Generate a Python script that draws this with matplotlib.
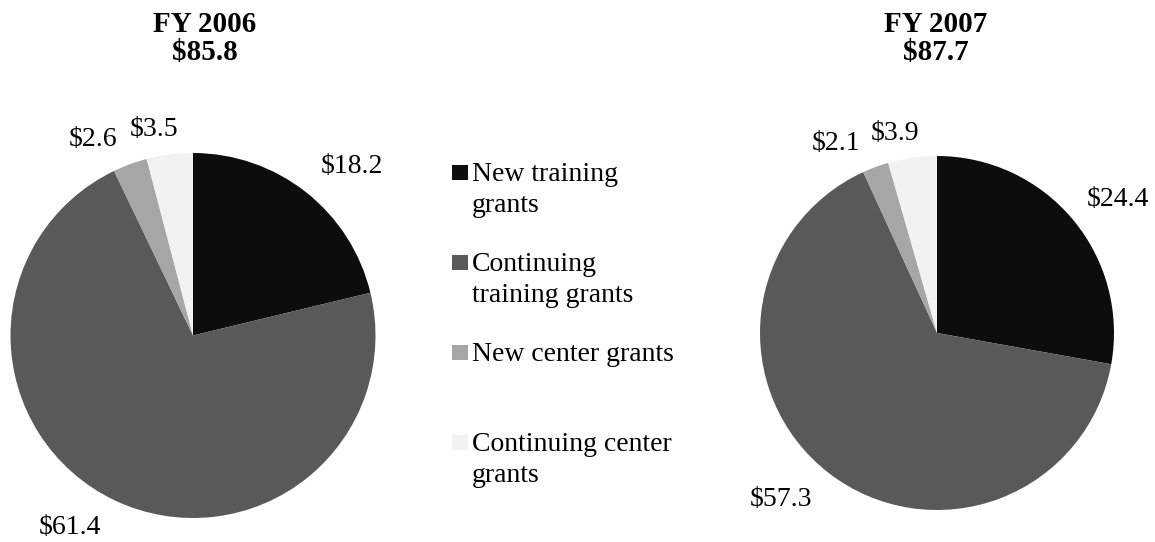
import matplotlib
matplotlib.use("Agg")
import matplotlib.pyplot as plt
from matplotlib.patches import Rectangle

plt.rcParams['font.family'] = ['Liberation Serif', 'DejaVu Serif']
plt.rcParams['text.parse_math'] = False

categories = ["New training\ngrants", "Continuing\ntraining grants",
              "New center grants", "Continuing center\ngrants"]
fy2006 = [18.2, 61.4, 2.6, 3.5]
fy2007 = [24.4, 57.3, 2.1, 3.9]
titles = ["FY 2006", "FY 2007"]
totals = ["$85.8", "$87.7"]
colors = ["#0d0d0d", "#595959", "#a6a6a6", "#f2f2f2"]

W, H = 1155, 542
fig = plt.figure(figsize=(W / 100, H / 100), dpi=100)
fig.patch.set_facecolor("white")

def px(x, y):
    return x / W, 1 - y / H

FS = 20
TFS = 21

# pie layouts (center x, center y, radius in pixels)
layouts = [(193, 335.5, 182.5), (937, 333, 177)]
# label positions in pixels for each pie
label_pos = [
    [(352, 167), (70, 528), (93, 139), (154, 129)],
    [(1118, 199), (781, 499), (836, 143), (895, 134)],
]
title_x = [205, 936]

for i, vals in enumerate([fy2006, fy2007]):
    cx, cy, r = layouts[i]
    ax = fig.add_axes([(cx - r) / W, (H - cy - r) / H, 2 * r / W, 2 * r / H])
    ax.pie(vals, colors=colors, startangle=90, counterclock=False,
           wedgeprops=dict(linewidth=0))
    ax.set_aspect('auto')
    ax.set_xlim(-1, 1)
    ax.set_ylim(-1, 1)
    ax.axis('off')
    for v, (lx, ly) in zip(vals, label_pos[i]):
        fig.text(*px(lx, ly), f"${v:.1f}", ha='center', va='center', fontsize=FS)
    fig.text(*px(title_x[i], 24), titles[i], ha='center', va='center',
             fontsize=TFS, fontweight='bold')
    fig.text(*px(title_x[i], 53), totals[i], ha='center', va='center',
             fontsize=TFS, fontweight='bold')

# legend
leg_baselines = [181, 271, 361, 451]
for cat, col, yb in zip(categories, colors, leg_baselines):
    x0, y0 = px(452, yb - 1)
    fig.patches.append(Rectangle((x0, y0), 16 / W, 15 / H, transform=fig.transFigure,
                                 facecolor=col, edgecolor='none'))
    lines = cat.split("\n")
    for k, line in enumerate(lines):
        fig.text(*px(472, yb + 31 * k), line, ha='left', va='baseline', fontsize=FS)

fig.savefig("out.png", dpi=100, facecolor="white")
